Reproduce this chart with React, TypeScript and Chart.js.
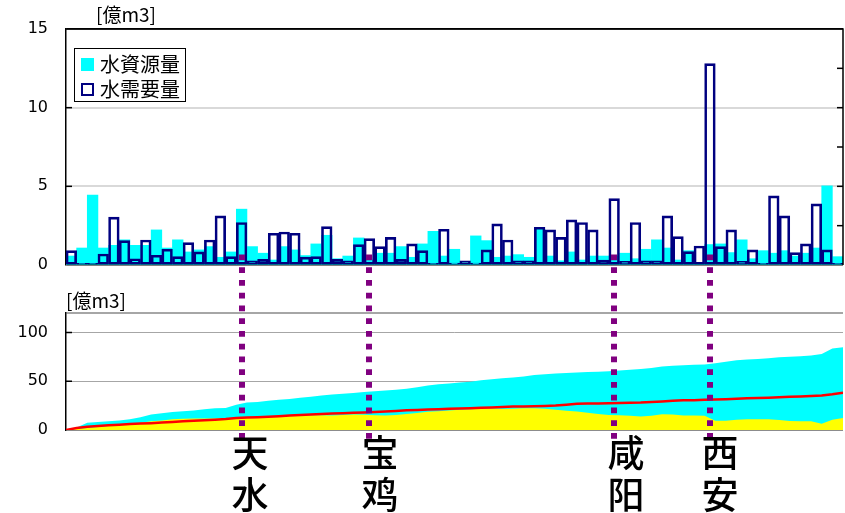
import React, { useEffect, useRef } from "react";
import { Chart, registerables } from "chart.js";

Chart.register(...registerables);

// ---------- data ----------
const barLabels: string[] = Array.from({ length: 73 }, (_, i) => String(i + 1));

// 水資源量 (cyan bars), 億m3
const resource: number[] = [
  0.57, 1.08, 4.44, 1.08, 1.25, 1.6, 1.25, 1.25, 2.23, 1.08,
  1.6, 0.83, 0.96, 1.17, 0.49, 0.83, 3.55, 1.17, 0.75, 0.32,
  1.17, 0.96, 0.6, 1.34, 1.89, 0.4, 0.57, 1.72, 0.32, 0.75,
  0.75, 1.17, 0.49, 1.34, 2.14, 0.57, 1.0, 0.15, 1.85, 1.55,
  0.49, 0.57, 0.66, 0.49, 2.27, 0.57, 0.27, 0.83, 0.32, 0.57,
  0.57, 0.57, 0.75, 0.4, 1.0, 1.6, 1.08, 0.32, 0.91, 0.15,
  1.3, 1.34, 0.79, 1.6, 0.4, 0.91, 0.75, 0.91, 0.57, 0.75,
  1.08, 5.03, 0.53,
];

// 水需要量 (navy outline bars), 億m3
const demand: number[] = [
  0.91, 0.1, 0.1, 0.7, 3.04, 1.55, 0.4, 1.59, 0.62, 1.0,
  0.53, 1.42, 0.83, 1.59, 3.12, 0.53, 2.7, 0.27, 0.36, 2.02,
  2.1, 2.02, 0.5, 0.53, 2.44, 0.36, 0.27, 1.29, 1.68, 1.17,
  1.76, 0.36, 1.34, 0.91, 0.1, 2.27, 0.12, 0.27, 0.12, 0.96,
  2.61, 1.59, 0.27, 0.27, 2.4, 2.23, 1.76, 2.87, 2.7, 2.23,
  0.32, 4.22, 0.23, 2.7, 0.27, 0.27, 3.12, 1.8, 0.85, 1.21,
  12.8, 1.17, 2.23, 0.23, 0.96, 0.1, 4.39, 3.12, 0.79, 1.34,
  3.88, 0.96, 0.1,
];

// lower panel (values at bar boundaries 0..73), 億m3
const cumResource: number[] = [
  0, 2.5, 7.5, 8.3, 9.0, 9.8, 11, 13, 15.9, 17.3,
  18.4, 19.2, 19.9, 21.3, 22.3, 22.5, 26, 28.1, 28.8, 29.9,
  30.9, 31.9, 33, 34, 35.4, 36.3, 37.1, 37.9, 38.9, 39.8,
  40.5, 41.3, 42.4, 43.8, 45.6, 46.9, 47.8, 48.6, 49.6, 51.0,
  52.1, 53, 53.9, 55, 56.3, 57.3, 58, 58.4, 58.9, 59.4,
  59.8, 60.2, 61, 61.8, 62.5, 63.5, 65.2, 65.8, 66.3, 66.8,
  67.3, 68.5, 70, 71.5, 72.4, 72.9, 73.5, 74.5, 75.1, 75.7,
  76.5, 78, 83.5, 85,
];

const cumYellow: number[] = [
  0, 1, 2, 3, 4, 5, 6.2, 7.5, 8.9, 9.8,
  11, 11.5, 11.7, 11.7, 11.7, 12, 12.4, 13, 13, 13.3,
  13.8, 14.3, 14.7, 15.1, 15.2, 15, 15.5, 15.8, 15.6, 15.2,
  14.8, 15.3, 16.5, 17.5, 18.6, 19.3, 20, 20.7, 21.3, 21.8,
  22, 21.5, 21.8, 22.2, 22.4, 21.7, 20.7, 19.8, 19, 17.6,
  16.5, 15.5, 15.1, 14.5, 13.8, 14.5, 16.2, 15.8, 15, 14.8,
  14.6, 9.5, 9.6, 10.5, 11, 11, 11, 10.2, 9.3, 8.9,
  8.9, 6.3, 10.5, 12.4,
];

const cumDemand: number[] = [
  0, 2, 3.4, 4.1, 4.8, 5.5, 6.2, 6.6, 7, 7.6,
  8.3, 9, 9.6, 10, 10.5, 11.2, 12.2, 12.8, 13.1, 13.6,
  14.2, 14.8, 15.3, 15.8, 16.4, 16.8, 17.2, 17.6, 18, 18.5,
  19, 19.6, 20.2, 20.6, 21, 21.4, 21.8, 22.1, 22.4, 22.8,
  23.2, 23.6, 24, 24.2, 24.4, 24.7, 25.2, 26, 26.8, 27.2,
  27.3, 27.5, 27.7, 27.9, 28.1, 28.6, 29.2, 29.9, 30.4, 30.6,
  30.9, 31.2, 31.6, 32.1, 32.5, 32.8, 33.1, 33.6, 34, 34.4,
  34.8, 35.3, 36.6, 38.3,
];

const cityNames: string[] = ["天水", "宝鸡", "咸阳", "西安"];
const cityBars: number[] = [16, 28, 51, 60];
const cityLabelLeft: number[] = [230, 360, 606, 700];

const topTicks: number[] = [0, 5, 10, 15];
const rightTicks: number[] = [2.5, 5, 7.5, 10, 12.5];
const bottomTicks: number[] = [0, 50, 100, 120];

const legendItems: string[] = ["水資源量", "水需要量"];
const unitLabel = "[億m3]";

// ---------- styling ----------
const CYAN = "#00ffff";
const NAVY = "#000080";
const PURPLE = "#800080";
const NUM_FONT = "'DejaVu Sans', sans-serif";
const CJK_FONT = "'Noto Sans CJK JP', 'Noto Sans CJK SC', sans-serif";
const TOP_H = 290;
const BOT_TOP = 290;
const BOT_H = 160;
const TOP_AREA = { left: 66, right: 843, top: 29, bottom: 265 };
const BOT_AREA = { left: 66, right: 843, top: 313 - BOT_TOP, bottom: 430 - BOT_TOP };

function drawDots(ctx: CanvasRenderingContext2D, xs: number[], y0: number, y1: number) {
  ctx.save();
  ctx.strokeStyle = PURPLE;
  ctx.lineWidth = 6;
  ctx.setLineDash([5.7, 7.06]);
  xs.forEach((x) => {
    ctx.beginPath();
    ctx.moveTo(Math.round(x), y0);
    ctx.lineTo(Math.round(x), y1);
    ctx.stroke();
  });
  ctx.restore();
}

// nudge layout padding until the plot area sits where the reference has it
function fitArea(chart: any, want: { left: number; right: number; top: number; bottom: number }) {
  for (let i = 0; i < 5; i++) {
    const a = chart.chartArea;
    const dt = want.top - a.top;
    const db = a.bottom - want.bottom;
    const dr = a.right - want.right;
    if (Math.abs(dt) < 0.3 && Math.abs(db) < 0.3 && Math.abs(dr) < 0.3) break;
    const p = chart.config.options.layout.padding;
    chart.config.options.layout.padding = {
      left: p.left,
      right: p.right + dr,
      top: p.top + dt,
      bottom: p.bottom + db,
    };
    chart.update();
  }
}

const yAxisCommon = {
  afterFit: (s: any) => {
    s.width = 66;
  },
  ticks: {
    padding: 0,
    color: "#000",
    font: { family: NUM_FONT, size: 16 },
  },
  border: { display: true, color: "#000", width: 1.5 },
};

export default function App() {
  const topRef = useRef<HTMLCanvasElement | null>(null);
  const botRef = useRef<HTMLCanvasElement | null>(null);

  useEffect(() => {
    const topPlugin = {
      id: "topDecor",
      afterDraw(chart: any) {
        const { ctx, chartArea, scales } = chart;
        const y = scales.y;
        ctx.save();
        ctx.strokeStyle = "#000";
        ctx.lineWidth = 1.5;
        ctx.beginPath();
        ctx.moveTo(chartArea.left, chartArea.top);
        ctx.lineTo(chartArea.right, chartArea.top);
        ctx.lineTo(chartArea.right, chartArea.bottom);
        ctx.stroke();
        topTicks.slice(1, -1).forEach((v) => {
          const py = y.getPixelForValue(v);
          ctx.beginPath();
          ctx.moveTo(chartArea.left, py);
          ctx.lineTo(chartArea.left + 6, py);
          ctx.stroke();
        });
        rightTicks.forEach((v) => {
          const py = y.getPixelForValue(v);
          ctx.beginPath();
          ctx.moveTo(chartArea.right - 6, py);
          ctx.lineTo(chartArea.right, py);
          ctx.stroke();
        });
        ctx.restore();
        const xs = cityBars.map((i) => scales.x.getPixelForValue(i));
        drawDots(ctx, xs, 254.5, TOP_H + 10);
      },
    };

    const botPlugin = {
      id: "botDecor",
      afterDraw(chart: any) {
        const { ctx, chartArea, scales } = chart;
        ctx.save();
        ctx.strokeStyle = "#000";
        ctx.lineWidth = 1.5;
        [50, 100].forEach((v) => {
          const py = scales.y.getPixelForValue(v);
          ctx.beginPath();
          ctx.moveTo(chartArea.left, py);
          ctx.lineTo(chartArea.left + 6, py);
          ctx.stroke();
        });
        ctx.restore();
        const xs = cityBars.map((i) => scales.x.getPixelForValue(i + 0.5));
        drawDots(ctx, xs, 280 - BOT_TOP, 440 - BOT_TOP);
      },
    };

    const top = new Chart(topRef.current as HTMLCanvasElement, {
      type: "bar",
      data: {
        labels: barLabels,
        datasets: [
          {
            label: legendItems[0],
            data: resource,
            backgroundColor: CYAN,
            borderWidth: 0,
            order: 1,
          },
          {
            label: legendItems[1],
            data: demand,
            backgroundColor: "rgba(255,255,255,0)",
            borderColor: NAVY,
            borderWidth: 2,
            borderSkipped: false,
            order: 0,
          },
        ],
      },
      options: {
        responsive: false,
        animation: false,
        devicePixelRatio: 1,
        layout: { padding: { left: 0, right: 2, top: 29, bottom: TOP_H - 265 } },
        plugins: { legend: { display: false }, tooltip: { enabled: false } },
        datasets: { bar: { barPercentage: 1, categoryPercentage: 1 } },
        scales: {
          x: { type: "category", display: false, stacked: true },
          y: {
            ...yAxisCommon,
            stacked: false,
            min: 0,
            max: 15,
            afterBuildTicks: (s: any) => {
              s.ticks = topTicks.map((v) => ({ value: v }));
            },
            grid: {
              drawTicks: true,
              tickLength: 18,
              tickColor: "rgba(0,0,0,0)",
              color: (c: any) =>
                c.tick && (c.tick.value === 0 || c.tick.value === 15) ? "#000" : "#d9d9d9",
              lineWidth: (c: any) =>
                c.tick && (c.tick.value === 0 || c.tick.value === 15) ? 1.5 : 2,
            },
          },
        },
      },
      plugins: [topPlugin],
    } as any);
    fitArea(top, TOP_AREA);

    const pts = (arr: number[]) => arr.map((v, k) => ({ x: k, y: v }));

    const bot = new Chart(botRef.current as HTMLCanvasElement, {
      type: "line",
      data: {
        datasets: [
          {
            label: "需要累計",
            data: pts(cumDemand),
            borderColor: "#ff0000",
            borderWidth: 2.5,
            pointRadius: 0,
            fill: false,
            order: 0,
          },
          {
            label: "yellow",
            data: pts(cumYellow),
            borderColor: "rgba(0,0,0,0)",
            borderWidth: 0,
            backgroundColor: "#ffff00",
            pointRadius: 0,
            fill: "origin",
            order: 1,
          },
          {
            label: "資源累計",
            data: pts(cumResource),
            borderColor: "rgba(0,0,0,0)",
            borderWidth: 0,
            backgroundColor: CYAN,
            pointRadius: 0,
            fill: "origin",
            order: 2,
          },
        ],
      },
      options: {
        responsive: false,
        animation: false,
        devicePixelRatio: 1,
        layout: { padding: { left: 0, right: 2, top: 313 - BOT_TOP, bottom: BOT_TOP + BOT_H - 430 } },
        plugins: { legend: { display: false }, tooltip: { enabled: false } },
        scales: {
          x: { type: "linear", min: 0, max: 73, display: false },
          y: {
            ...yAxisCommon,
            min: 0,
            max: 120,
            afterBuildTicks: (s: any) => {
              s.ticks = bottomTicks.map((v) => ({ value: v }));
            },
            ticks: {
              ...yAxisCommon.ticks,
              callback: (v: any) => (v === 120 ? "" : String(v)),
            },
            grid: {
              drawTicks: true,
              tickLength: 18,
              tickColor: "rgba(0,0,0,0)",
              color: (c: any) => (c.tick && c.tick.value === 0 ? "#8c8c8c" : "#a6a6a6"),
              lineWidth: (c: any) => (c.tick && (c.tick.value === 120 || c.tick.value === 0) ? 2 : 1),
            },
          },
        },
      },
      plugins: [botPlugin],
    } as any);
    fitArea(bot, BOT_AREA);

    return () => {
      top.destroy();
      bot.destroy();
    };
  }, []);

  return (
    <div
      style={{
        position: "absolute",
        left: 0,
        top: 0,
        width: 845,
        height: 513,
        background: "#fff",
        overflow: "hidden",
      }}
    >
      <canvas
        ref={topRef}
        width={845}
        height={TOP_H}
        style={{ position: "absolute", left: 0, top: 0 }}
      />
      <canvas
        ref={botRef}
        width={845}
        height={BOT_H}
        style={{ position: "absolute", left: 0, top: BOT_TOP }}
      />
      <div
        style={{
          position: "absolute",
          left: 96,
          top: 2,
          fontFamily: CJK_FONT,
          fontSize: 19,
          lineHeight: "23px",
          color: "#000",
          whiteSpace: "nowrap",
        }}
      >
        {unitLabel}
      </div>
      <div
        style={{
          position: "absolute",
          left: 66,
          top: 288,
          fontFamily: CJK_FONT,
          fontSize: 19,
          lineHeight: "23px",
          color: "#000",
          whiteSpace: "nowrap",
        }}
      >
        {unitLabel}
      </div>
      <div
        style={{
          position: "absolute",
          left: 74,
          top: 48,
          width: 110,
          height: 52,
          border: "1.5px solid #000",
          background: "#fff",
        }}
      >
        {legendItems.map((t, i) => (
          <div
            key={t}
            style={{
              position: "absolute",
              left: 6,
              top: 3 + i * 25,
              height: 24,
              display: "flex",
              alignItems: "center",
              whiteSpace: "nowrap",
            }}
          >
            <span
              style={{
                display: "inline-block",
                boxSizing: "border-box",
                width: 13,
                height: 13,
                background: i === 0 ? CYAN : "#fff",
                border: i === 0 ? "none" : `2px solid ${NAVY}`,
                marginRight: 6,
              }}
            />
            <span style={{ fontFamily: CJK_FONT, fontSize: 20, lineHeight: "24px", color: "#000" }}>
              {t}
            </span>
          </div>
        ))}
      </div>
      {cityNames.map((name, i) => (
        <div
          key={name}
          style={{
            position: "absolute",
            left: cityLabelLeft[i],
            top: 430,
            width: 40,
            textAlign: "center",
            fontFamily: CJK_FONT,
            fontSize: 37,
            fontWeight: 500,
            lineHeight: "42px",
            color: "#000",
          }}
        >
          {name.split("").map((ch, j) => (
            <div key={j}>{ch}</div>
          ))}
        </div>
      ))}
    </div>
  );
}
